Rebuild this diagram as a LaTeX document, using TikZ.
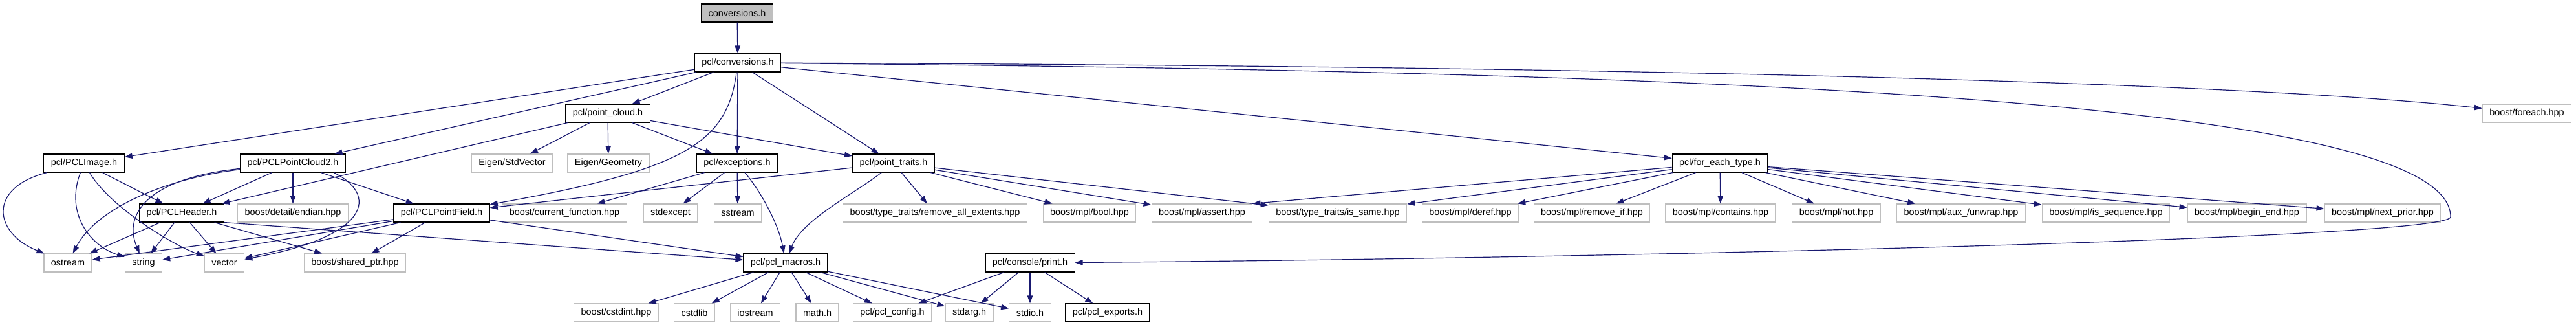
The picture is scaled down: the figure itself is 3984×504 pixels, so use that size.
\documentclass[tikz,border=0pt]{standalone}
\usepackage{fontspec}
\setmainfont{Liberation Sans}
\usepackage{tikz}
\usetikzlibrary{arrows.meta}
\definecolor{edgeblue}{HTML}{191970}
\definecolor{boxgray}{HTML}{BFBFBF}

\tikzset{
  file/.style={rectangle, fill=white, minimum height=14pt, inner xsep=5.5pt, inner ysep=0pt, font=\fontsize{7.2}{8.6}\selectfont},
  hdr/.style={file, draw=black, line width=0.55pt},
  sys/.style={file, draw=boxgray, line width=0.6pt},
  rootfile/.style={hdr, fill=boxgray},
  dep/.style={-{Stealth[length=6pt, width=4.2pt, inset=0pt]}, draw=edgeblue, line width=0.6pt}
}

\begin{document}
\begin{tikzpicture}[x=0.5pt, y=-0.5pt]
\path[use as bounding box, fill=white] (0,0) rectangle (3984,504);

% files, row by row
\node[rootfile] (root) at (1140,20) {conversions.h};
\node[hdr] (conv) at (1141,97) {pcl/conversions.h};
\node[hdr] (cloud) at (940,175) {pcl/point\_cloud.h};
\node[sys] (foreach) at (3908,175) {boost/foreach.hpp};

\node[hdr] (image) at (130,252) {pcl/PCLImage.h};
\node[hdr] (cloud2) at (453,252) {pcl/PCLPointCloud2.h};
\node[sys] (stdvec) at (792,252) {Eigen/StdVector};
\node[sys] (geom) at (941,252) {Eigen/Geometry};
\node[hdr] (except) at (1140,252) {pcl/exceptions.h};
\node[hdr] (traits) at (1382,252) {pcl/point\_traits.h};
\node[hdr] (eachtype) at (2660,252) {pcl/for\_each\_type.h};

\node[hdr] (header) at (281,329) {pcl/PCLHeader.h};
\node[sys] (endian) at (453,329) {boost/detail/endian.hpp};
\node[hdr] (field) at (683,329) {pcl/PCLPointField.h};
\node[sys] (curfn) at (873,329) {boost/current\_function.hpp};
\node[sys] (stdexc) at (1037,329) {stdexcept};
\node[sys] (sstream) at (1141,329) {sstream};
\node[sys] (remext) at (1446,329) {boost/type\_traits/remove\_all\_extents.hpp};
\node[sys] (mbool) at (1685,329) {boost/mpl/bool.hpp};
\node[sys] (massert) at (1859,329) {boost/mpl/assert.hpp};
\node[sys] (issame) at (2069,329) {boost/type\_traits/is\_same.hpp};
\node[sys] (deref) at (2274,329) {boost/mpl/deref.hpp};
\node[sys] (remif) at (2462,329) {boost/mpl/remove\_if.hpp};
\node[sys] (contains) at (2661,329) {boost/mpl/contains.hpp};
\node[sys] (mnot) at (2840,329) {boost/mpl/not.hpp};
\node[sys] (unwrap) at (3033,329) {boost/mpl/aux\_/unwrap.hpp};
\node[sys] (isseq) at (3257,329) {boost/mpl/is\_sequence.hpp};
\node[sys] (beginend) at (3475,329) {boost/mpl/begin\_end.hpp};
\node[sys] (nextprior) at (3685,329) {boost/mpl/next\_prior.hpp};

\node[sys] (ostream) at (105,406) {ostream};
\node[sys] (string) at (222,406) {string};
\node[sys] (vector) at (347,406) {vector};
\node[sys] (sharedptr) at (549,406) {boost/shared\_ptr.hpp};
\node[hdr] (macros) at (1215,406) {pcl/pcl\_macros.h};
\node[hdr] (print) at (1593,406) {pcl/console/print.h};

\node[sys] (cstdint) at (953,483) {boost/cstdint.hpp};
\node[sys] (cstdlib) at (1074,483) {cstdlib};
\node[sys] (iostream) at (1168,483) {iostream};
\node[sys] (mathh) at (1264,483) {math.h};
\node[sys] (config) at (1380,483) {pcl/pcl\_config.h};
\node[sys] (stdarg) at (1499,483) {stdarg.h};
\node[sys] (stdio) at (1593,483) {stdio.h};
\node[hdr] (exports) at (1713,483) {pcl/pcl\_exports.h};

% includes
\draw[dep] (root) -- (conv);

\draw[dep] (conv) -- (image);
\draw[dep] (conv) -- (cloud2);
\draw[dep] (conv) -- (cloud);
\draw[dep] (conv) .. controls (1125,220) and (1060,262) .. (field);
\draw[dep] (conv) -- (except);
\draw[dep] (conv) -- (traits);
\draw[dep] (conv) -- (eachtype);
\draw[dep] (conv) .. controls (2600,102) and (3500,130) .. (foreach);
\coordinate (printbend) at (3790,335);
\draw[dep] (conv) .. controls (2600,110) and (3790,150) .. (printbend) .. controls (3790,370) and (2400,400) .. (print);

\draw[dep] (cloud) -- (stdvec);
\draw[dep] (cloud) -- (geom);
\draw[dep] (cloud) -- (except);
\draw[dep] (cloud) -- (traits);
\draw[dep] (cloud) -- (header);

\draw[dep] (image) .. controls (-20,290) and (-10,360) .. (ostream);
\draw[dep] (image) .. controls (100,330) and (140,380) .. (string);
\draw[dep] (image) .. controls (170,320) and (270,380) .. (vector);
\draw[dep] (image) -- (header);

\draw[dep] (cloud2) .. controls (260,275) and (150,320) .. (ostream);
\draw[dep] (cloud2) .. controls (230,275) and (190,330) .. (string);
\draw[dep] (cloud2.-13) .. controls (585,300) and (575,365) .. (vector);
\draw[dep] (cloud2) -- (header);
\draw[dep] (cloud2) -- (endian);
\draw[dep] (cloud2) -- (field);

\draw[dep] (header) -- (ostream);
\draw[dep] (header) -- (string);
\draw[dep] (header) -- (vector);
\draw[dep] (header) -- (sharedptr);
\draw[dep] (header.south east) -- (macros);

\draw[dep] (field) -- (ostream);
\draw[dep] (field) -- (string);
\draw[dep] (field) -- (vector);
\draw[dep] (field) -- (sharedptr);
\draw[dep] (field) -- (macros);

\draw[dep] (except) -- (curfn);
\draw[dep] (except) -- (stdexc);
\draw[dep] (except) -- (sstream);
\draw[dep] (except) .. controls (1180,300) and (1205,350) .. (macros);

\draw[dep] (traits) -- (field);
\draw[dep] (traits) -- (remext);
\draw[dep] (traits) -- (mbool);
\draw[dep] (traits) -- (massert);
\draw[dep] (traits) -- (issame);
\draw[dep] (traits) .. controls (1320,300) and (1240,340) .. (macros);

\draw[dep] (eachtype) -- (massert.north east);
\draw[dep] (eachtype) -- (issame);
\draw[dep] (eachtype) -- (deref);
\draw[dep] (eachtype) -- (remif);
\draw[dep] (eachtype) -- (contains);
\draw[dep] (eachtype) -- (mnot);
\draw[dep] (eachtype) -- (unwrap);
\draw[dep] (eachtype) -- (isseq);
\draw[dep] (eachtype) -- (beginend);
\draw[dep] (eachtype) -- (nextprior);

\draw[dep] (macros) -- (cstdint);
\draw[dep] (macros) -- (cstdlib);
\draw[dep] (macros) -- (iostream);
\draw[dep] (macros) -- (mathh);
\draw[dep] (macros) -- (config);
\draw[dep] (macros) -- (stdarg);
\draw[dep] (macros) -- (stdio);

\draw[dep] (print) -- (config);
\draw[dep] (print) -- (stdarg);
\draw[dep] (print) -- (stdio);
\draw[dep] (print) -- (exports);
\end{tikzpicture}
\end{document}
